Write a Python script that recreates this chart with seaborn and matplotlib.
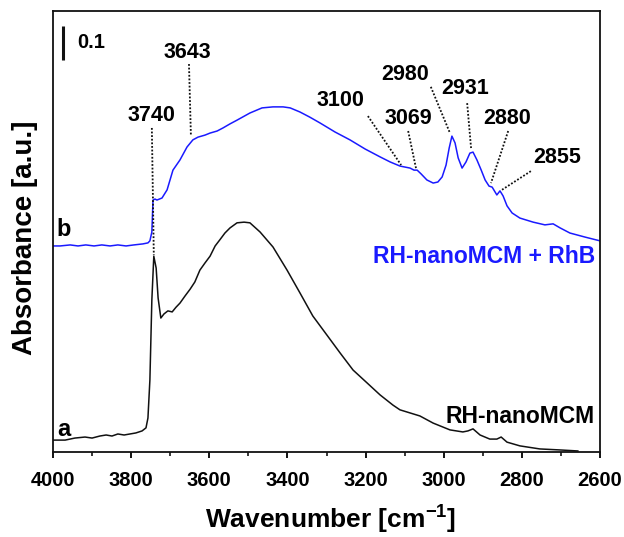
import numpy as np
import pandas as pd
import matplotlib
matplotlib.use("Agg")
import matplotlib.pyplot as plt
import seaborn as sns
from matplotlib.ticker import MultipleLocator

# ---------------- data ----------------
wn_a = [4000, 3969, 3944, 3918, 3900, 3880, 3864, 3849, 3834, 3818, 3803, 3788,
        3772, 3762, 3757, 3752, 3747, 3742, 3736, 3731, 3724, 3716, 3706, 3695,
        3685, 3675, 3662, 3649, 3637, 3624, 3611, 3598, 3585, 3573, 3560, 3547,
        3529, 3511, 3496, 3470, 3437, 3401, 3368, 3335, 3299, 3265, 3232, 3196,
        3163, 3130, 3112, 3061, 3027, 2984, 2951, 2938, 2925, 2907, 2882, 2864,
        2853, 2838, 2805, 2754, 2702, 2656]
abs_a = [0.035, 0.035, 0.041, 0.044, 0.041, 0.047, 0.050, 0.047, 0.053, 0.050,
         0.053, 0.056, 0.062, 0.071, 0.100, 0.212, 0.447, 0.576, 0.541, 0.453,
         0.394, 0.406, 0.415, 0.412, 0.426, 0.438, 0.459, 0.479, 0.500, 0.535,
         0.556, 0.576, 0.606, 0.624, 0.644, 0.659, 0.674, 0.676, 0.674, 0.647,
         0.603, 0.535, 0.468, 0.400, 0.344, 0.291, 0.241, 0.203, 0.168, 0.138,
         0.124, 0.106, 0.085, 0.065, 0.059, 0.062, 0.068, 0.050, 0.038, 0.038,
         0.044, 0.029, 0.018, 0.009, 0.006, 0.003]

wn_b = [4000, 3982, 3956, 3936, 3916, 3895, 3875, 3854, 3834, 3813, 3793, 3770,
        3757, 3752, 3747, 3744, 3739, 3734, 3721, 3708, 3693, 3675, 3657, 3642,
        3629, 3611, 3598, 3580, 3565, 3547, 3529, 3496, 3465, 3437, 3411, 3393,
        3368, 3343, 3317, 3278, 3240, 3201, 3163, 3137, 3112, 3099, 3086, 3076,
        3068, 3058, 3043, 3027, 3015, 3004, 2994, 2986, 2979, 2971, 2963, 2953,
        2943, 2933, 2925, 2915, 2904, 2894, 2884, 2876, 2864, 2856, 2848, 2838,
        2825, 2805, 2771, 2741, 2720, 2702, 2677, 2638, 2600]
abs_b = [0.606, 0.606, 0.609, 0.606, 0.609, 0.606, 0.609, 0.606, 0.609, 0.606,
         0.609, 0.612, 0.615, 0.621, 0.647, 0.741, 0.744, 0.741, 0.747, 0.771,
         0.829, 0.859, 0.897, 0.918, 0.926, 0.932, 0.938, 0.944, 0.953, 0.965,
         0.976, 0.997, 1.012, 1.015, 1.015, 1.012, 1.000, 0.985, 0.968, 0.941,
         0.918, 0.891, 0.868, 0.853, 0.841, 0.838, 0.835, 0.829, 0.829, 0.818,
         0.800, 0.791, 0.794, 0.809, 0.844, 0.894, 0.929, 0.909, 0.865, 0.835,
         0.853, 0.879, 0.882, 0.859, 0.829, 0.800, 0.782, 0.779, 0.756, 0.768,
         0.753, 0.724, 0.703, 0.688, 0.676, 0.668, 0.671, 0.659, 0.644, 0.632,
         0.621]

peak_labels = ["3740", "3643", "3100", "3069", "2980", "2931", "2880", "2855"]
series_names = ["RH-nanoMCM", "RH-nanoMCM + RhB"]
curve_letters = ["a", "b"]
x_ticks = [4000, 3800, 3600, 3400, 3200, 3000, 2800, 2600]
scale_bar_value = 0.1

# ---------------- layout / style ----------------
sns.set_theme(style="white")
plt.rcParams["font.family"] = ["Liberation Sans", "DejaVu Sans"]
plt.rcParams["font.weight"] = "bold"
plt.rcParams["text.color"] = "black"
plt.rcParams["axes.labelcolor"] = "black"
plt.rcParams["xtick.color"] = "black"
plt.rcParams["mathtext.fontset"] = "custom"
plt.rcParams["mathtext.rm"] = "Liberation Sans:bold"
plt.rcParams["mathtext.bf"] = "Liberation Sans:bold"
plt.rcParams["mathtext.it"] = "Liberation Sans:bold"

fig = plt.figure(figsize=(6.24, 5.37), dpi=100)
ax = fig.add_axes([53 / 624, 1 - 452 / 537, 547 / 624, 441 / 537])

df_a = pd.DataFrame({"wn": wn_a, "A": abs_a})
df_b = pd.DataFrame({"wn": wn_b, "A": abs_b})
sns.lineplot(data=df_a, x="wn", y="A", ax=ax, color="#111111", lw=1.1,
             estimator=None, sort=False)
sns.lineplot(data=df_b, x="wn", y="A", ax=ax, color="#1a1aff", lw=1.1,
             estimator=None, sort=False)

ax.set_xlim(4000, 2600)
ax.set_ylim(0, 1.297)
ax.set_xticks(x_ticks)
ax.xaxis.set_minor_locator(MultipleLocator(100))
ax.set_yticks([])
ax.tick_params(axis="x", which="major", direction="out", length=4.5, width=1.3,
               bottom=True, top=False, labelsize=14.5, pad=9, colors="black")
ax.tick_params(axis="x", which="minor", direction="out", length=3, width=1.1,
               bottom=True, top=False, colors="black")
for lab in ax.get_xticklabels():
    lab.set_fontweight("bold")
for s in ax.spines.values():
    s.set_linewidth(1.3)
    s.set_color("#111111")

ax.set_xlabel(r"Wavenumber [cm$^{\mathbf{-1}}$]", fontsize=19, fontweight="bold",
              color="black")
ax.set_ylabel("Absorbance [a.u.]", fontsize=20, fontweight="bold", color="black")
ax.xaxis.label.set_va("center")
ax.yaxis.label.set_va("center")
ax.xaxis.set_label_coords(0.508, -0.154)
ax.yaxis.set_label_coords(-0.051, 0.485)

# peak annotations: (text position, dotted line start, dotted line end)
ann_pos = {
    "3740": ((3747, 0.991), (3747, 0.953), (3742, 0.579)),
    "3643": ((3655, 1.176), (3652, 1.141), (3647, 0.929)),
    "3100": ((3265, 1.035), (3194, 0.988), (3109, 0.844)),
    "3069": ((3091, 0.982), (3091, 0.944), (3071, 0.835)),
    "2980": ((3099, 1.109), (3033, 1.074), (2984, 0.938)),
    "2931": ((2946, 1.068), (2940, 1.026), (2930, 0.894)),
    "2880": ((2838, 0.982), (2835, 0.944), (2879, 0.791)),
    "2855": ((2710, 0.865), (2777, 0.826), (2851, 0.771)),
}
for lbl in peak_labels:
    (tx, ty), (x0, y0), (x1, y1) = ann_pos[lbl]
    ax.text(tx, ty, lbl, ha="center", va="center", fontsize=15.5,
            fontweight="bold", color="black")
    ax.plot([x0, x1], [y0, y1], color="#111111", lw=1.3,
            linestyle=(0, (1, 1)))

# series labels
ax.text(2613, 0.574, series_names[1], ha="right", va="center", fontsize=16.5,
        fontweight="bold", color="#1a1aff")
ax.text(2613, 0.103, series_names[0], ha="right", va="center", fontsize=16.5,
        fontweight="bold", color="black")
ax.text(3988, 0.065, curve_letters[0], ha="left", va="center", fontsize=17,
        fontweight="bold", color="black")
ax.text(3990, 0.653, curve_letters[1], ha="left", va="center", fontsize=17,
        fontweight="bold", color="black")

# scale bar
ax.plot([3974, 3974], [1.153, 1.153 + scale_bar_value], color="#111111", lw=2.2,
        solid_capstyle="butt")
ax.text(3939, 1.203, str(scale_bar_value), ha="left", va="center", fontsize=14.5,
        fontweight="bold", color="black")

fig.savefig("out.png", dpi=100)
